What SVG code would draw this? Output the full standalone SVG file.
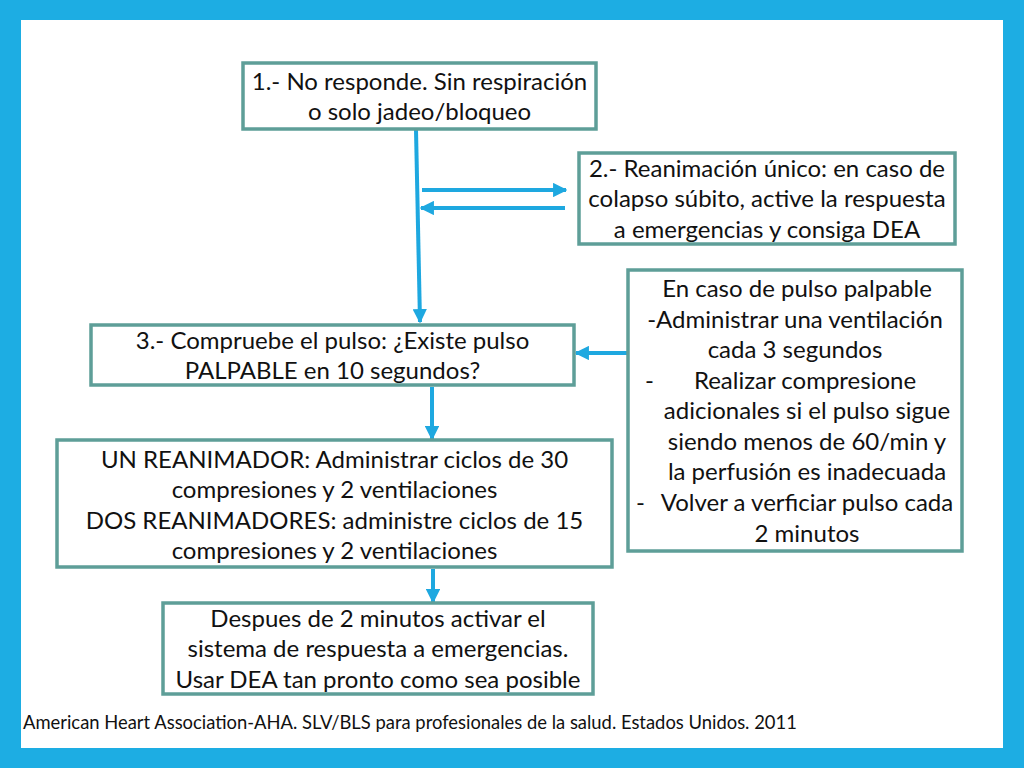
<svg xmlns="http://www.w3.org/2000/svg" width="1024" height="768" viewBox="0 0 1024 768">
<defs>
<style>
.box{fill:#ffffff;stroke:#5e9e98;stroke-width:3.5}
.t{font-family:Lato,"Open Sans",sans-serif;font-size:24px;fill:#111;text-anchor:middle}
.c{stroke:#1ea8e0;stroke-width:4;fill:none}
.foot{font-family:Lato,"Liberation Sans",sans-serif;font-size:18.4px;fill:#111}
</style>
<marker id="ah" viewBox="0 0 10 10" refX="9" refY="5" markerWidth="3.6" markerHeight="3.6" orient="auto" markerUnits="strokeWidth">
<path d="M0,0 L10,5 L0,10 z" fill="#1ea8e0"/>
</marker>
</defs>
<rect x="0" y="0" width="1024" height="768" fill="#1dade3"/>
<rect x="21" y="20" width="982" height="728" fill="#ffffff"/>

<g id="connectors">
<line class="c" x1="416" y1="130" x2="420" y2="322" marker-end="url(#ah)"/>
<line class="c" x1="422" y1="190" x2="566" y2="190" marker-end="url(#ah)"/>
<line class="c" x1="565" y1="208" x2="421" y2="208" marker-end="url(#ah)"/>
<line class="c" x1="628" y1="353" x2="576" y2="353" marker-end="url(#ah)"/>
<line class="c" x1="432" y1="387" x2="432" y2="439" marker-end="url(#ah)"/>
<line class="c" x1="433" y1="569" x2="433" y2="602" marker-end="url(#ah)"/>
</g>

<g id="n1">
<rect class="box" x="243" y="63" width="353" height="66"/>
<text class="t" x="419.5" y="90">1.- No responde. Sin respiración</text>
<text class="t" x="419.5" y="120">o solo jadeo/bloqueo</text>
</g>

<g id="n2">
<rect class="box" x="579" y="153" width="376" height="91"/>
<text class="t" x="767" y="177">2.- Reanimación único: en caso de</text>
<text class="t" x="767" y="207">colapso súbito, active la respuesta</text>
<text class="t" x="767" y="238">a emergencias y consiga DEA</text>
</g>

<g id="n3">
<rect class="box" x="91" y="325" width="483" height="60"/>
<text class="t" x="332.5" y="349">3.- Compruebe el pulso: ¿Existe pulso</text>
<text class="t" x="332.5" y="379">PALPABLE en 10 segundos?</text>
</g>

<g id="n4">
<rect class="box" x="57" y="440" width="555" height="127"/>
<text class="t" x="334.5" y="468">UN REANIMADOR: Administrar ciclos de 30</text>
<text class="t" x="334.5" y="498">compresiones y 2 ventilaciones</text>
<text class="t" x="334.5" y="529">DOS REANIMADORES: administre ciclos de 15</text>
<text class="t" x="334.5" y="559">compresiones y 2 ventilaciones</text>
</g>

<g id="n5">
<rect class="box" x="163" y="603" width="430" height="91"/>
<text class="t" x="378" y="627">Despues de 2 minutos activar el</text>
<text class="t" x="378" y="657">sistema de respuesta a emergencias.</text>
<text class="t" x="378" y="688">Usar DEA tan pronto como sea posible</text>
</g>

<g id="n6">
<rect class="box" x="628" y="270" width="334" height="281"/>
<text class="t" x="797" y="297">En caso de pulso palpable</text>
<text class="t" x="795" y="328">-Administrar una ventilación</text>
<text class="t" x="795" y="358">cada 3 segundos</text>
<text class="t" x="645" y="389" style="text-anchor:start">-</text>
<text class="t" x="805" y="389">Realizar compresione</text>
<text class="t" x="807" y="419">adicionales si el pulso sigue</text>
<text class="t" x="807" y="450">siendo menos de 60/min y</text>
<text class="t" x="807" y="480">la perfusión es inadecuada</text>
<text class="t" x="636" y="511" style="text-anchor:start">-</text>
<text class="t" x="807" y="511">Volver a verficiar pulso cada</text>
<text class="t" x="807" y="542">2 minutos</text>
</g>

<text class="foot" x="23" y="729">American Heart Association-AHA. SLV/BLS para profesionales de la salud. Estados Unidos. 2011</text>
</svg>
